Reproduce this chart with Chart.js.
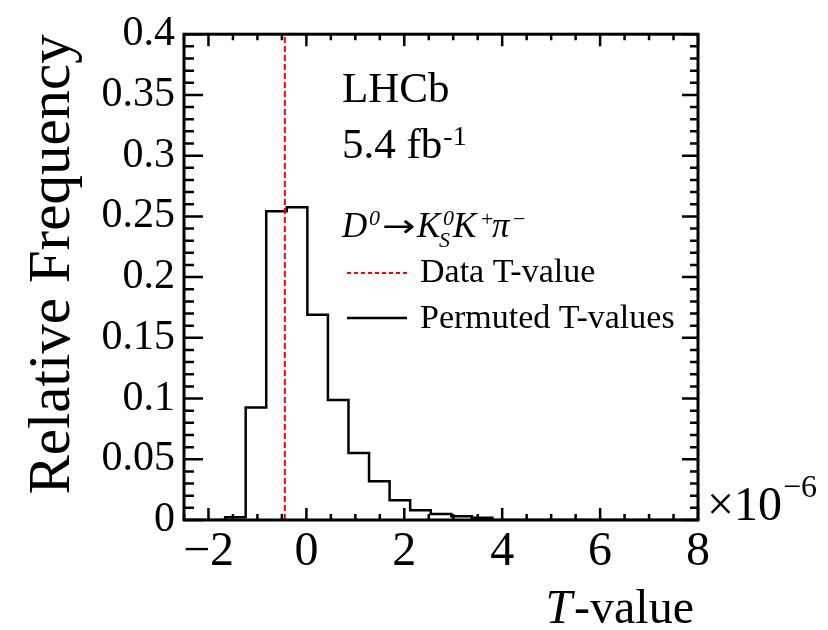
<!DOCTYPE html>
<html><head><meta charset="utf-8">
<script src="https://cdn.jsdelivr.net/npm/chart.js@4.4.0/dist/chart.umd.min.js"></script>
<style>html,body{margin:0;padding:0;background:#fff}canvas{display:block}</style>
</head><body>
<canvas id="c" width="828" height="630"></canvas>
<script>
// ---- data ----
const binEdges = [-2.5,-2.08,-1.66,-1.24,-0.82,-0.40,0.02,0.44,0.86,1.28,1.70,2.12,2.54,2.96,3.38,3.80,4.22,4.64,5.06,5.48,5.90,6.32,6.74,7.16,7.58,8.00];
const permutedFreq = [0,0,0.0022,0.0927,0.2542,0.2575,0.1691,0.0989,0.0552,0.0320,0.0163,0.0081,0.0049,0.0030,0.0019,0,0,0,0,0,0,0,0,0,0];
const dataTValue = -0.44;
const xTickValues = [-2,0,2,4,6,8];
const xTickLabels = ['\u22122','0','2','4','6','8'];
const yTickValues = [0,0.05,0.1,0.15,0.2,0.25,0.3,0.35,0.4];
const yTickLabels = ['0','0.05','0.1','0.15','0.2','0.25','0.3','0.35','0.4'];
const xRange = [-2.5, 8];
const yRange = [0, 0.4];

const SERIF = '"Liberation Serif", "Times New Roman", serif';

const histPoints = binEdges.map((e, i) => ({x: e, y: permutedFreq[Math.min(i, permutedFreq.length - 1)]}));
const dataLine = [{x: dataTValue, y: yRange[0]}, {x: dataTValue, y: yRange[1]}];

const whiteBg = {
  id: 'whiteBg',
  beforeDraw(chart) {
    const ctx = chart.ctx;
    ctx.save(); ctx.fillStyle = '#fff'; ctx.fillRect(0, 0, chart.width, chart.height); ctx.restore();
  }
};

const decor = {
  id: 'decor',
  afterDraw(chart) {
    const ctx = chart.ctx;
    const xs = chart.scales.x, ys = chart.scales.y;
    const {left, right, top, bottom} = chart.chartArea;
    ctx.save();
    ctx.strokeStyle = '#000';
    ctx.lineWidth = 2.5;
    ctx.setLineDash([]);
    ctx.beginPath();
    for (let k = 0; k <= 21; k++) {
      const v = xRange[0] + k * 0.5;
      const px = xs.getPixelForValue(v);
      const major = Math.abs(v / 2 - Math.round(v / 2)) < 1e-6;
      const len = major ? 12 : 6;
      ctx.moveTo(px, bottom); ctx.lineTo(px, bottom - len);
      ctx.moveTo(px, top); ctx.lineTo(px, top + len);
    }
    for (let k = 0; k <= 40; k++) {
      const v = k * 0.01;
      const py = ys.getPixelForValue(v);
      const major = k % 5 === 0;
      ctx.moveTo(left, py); ctx.lineTo(left + (major ? 19 : 10), py);
      ctx.moveTo(right, py); ctx.lineTo(right - (major ? 16 : 8), py);
    }
    ctx.stroke();
    ctx.lineWidth = 3;
    ctx.strokeRect(left, top, right - left, bottom - top);

    ctx.fillStyle = '#000';
    ctx.textBaseline = 'alphabetic';
    ctx.textAlign = 'left';
    const put = (s, x, y, font) => { ctx.font = font; ctx.fillText(s, x, y); return ctx.measureText(s).width; };
    const it = (s) => 'italic ' + s + 'px ' + SERIF;

    // LHCb label
    put('LHCb', 342, 102, '43px ' + SERIF);
    let w = put('5.4 fb', 342, 158, '43px ' + SERIF);
    put('-1', 342 + w + 1, 145, '28px ' + SERIF);

    // decay label
    const base = 237;
    put('D', 342, base, it(35));
    put('0', 369, base - 12, it(22));
    ctx.save();
    ctx.translate(382, base);
    ctx.scale(1, 0.8);
    put('\u2192', 0, 0, '40px "DejaVu Sans", sans-serif');
    ctx.restore();
    put('K', 417, base, it(35));
    put('0', 443, base - 12, it(22));
    put('S', 439, base + 10, it(22));
    put('K', 453, base, it(35));
    put('+', 481, base - 11, '22px ' + SERIF);
    put('\u03C0', 492, base, it(35));
    put('\u2212', 513, base - 11, '22px ' + SERIF);

    // legend
    ctx.lineWidth = 2;
    ctx.strokeStyle = '#ff0000';
    ctx.setLineDash([4, 3]);
    ctx.beginPath(); ctx.moveTo(347, 273); ctx.lineTo(407, 273); ctx.stroke();
    ctx.setLineDash([]);
    ctx.strokeStyle = '#000';
    ctx.lineWidth = 2.5;
    ctx.beginPath(); ctx.moveTo(347, 318); ctx.lineTo(407, 318); ctx.stroke();
    put('Data T-value', 420, 282, '34px ' + SERIF);
    put('Permuted T-values', 420, 328, '34px ' + SERIF);

    // exponent
    w = put('\u00D710', 707, 520, '48px ' + SERIF);
    put('\u22126', 707 + w + 1, 497, '32px ' + SERIF);

    // x axis title
    ctx.font = '48px ' + SERIF;
    const wv = ctx.measureText('-value').width;
    ctx.font = it(48);
    const wt = ctx.measureText('T').width;
    const endX = 694;
    put('T', endX - wv - wt - 2, 623, it(48));
    put('-value', endX - wv, 623, '48px ' + SERIF);
    ctx.restore();
  }
};

new Chart(document.getElementById('c'), {
  type: 'scatter',
  data: {
    datasets: [
      {
        label: 'Data T-value',
        data: dataLine,
        showLine: true,
        borderColor: '#ff0000',
        borderWidth: 2,
        borderDash: [6, 3],
        pointRadius: 0,
        fill: false
      },
      {
        label: 'Permuted T-values',
        data: histPoints,
        showLine: true,
        stepped: 'before',
        borderColor: '#000000',
        borderWidth: 2.5,
        pointRadius: 0,
        fill: false
      }
    ]
  },
  options: {
    responsive: false,
    animation: false,
    events: [],
    layout: {padding: {top: 28, right: 130, left: 0, bottom: 0}},
    plugins: {legend: {display: false}, tooltip: {enabled: false}},
    scales: {
      x: {
        type: 'linear',
        min: xRange[0], max: xRange[1],
        afterBuildTicks(scale) { scale.ticks = xTickValues.map(v => ({value: v})); },
        afterFit(scale) { scale.height = 110; },
        grid: {display: false, drawTicks: false},
        border: {display: false},
        ticks: {
          color: '#000',
          padding: 4,
          maxRotation: 0,
          autoSkip: false,
          font: {family: SERIF, size: 48},
          callback(v) { const i = xTickValues.indexOf(v); return i >= 0 ? xTickLabels[i] : ''; }
        }
      },
      y: {
        type: 'linear',
        min: yRange[0], max: yRange[1],
        afterBuildTicks(scale) { scale.ticks = yTickValues.map(v => ({value: v})); },
        afterFit(scale) { scale.width = 184; },
        grid: {display: false, drawTicks: false},
        border: {display: false},
        title: {
          display: true,
          text: 'Relative Frequency',
          align: 'end',
          color: '#000',
          font: {family: SERIF, size: 59},
          padding: {top: 18, bottom: 0}
        },
        ticks: {
          color: '#000',
          padding: 9,
          autoSkip: false,
          font: {family: SERIF, size: 42},
          callback(v) { const i = yTickValues.findIndex(t => Math.abs(t - v) < 1e-9); return i >= 0 ? yTickLabels[i] : ''; }
        }
      }
    }
  },
  plugins: [whiteBg, decor]
});
</script>
</body></html>
